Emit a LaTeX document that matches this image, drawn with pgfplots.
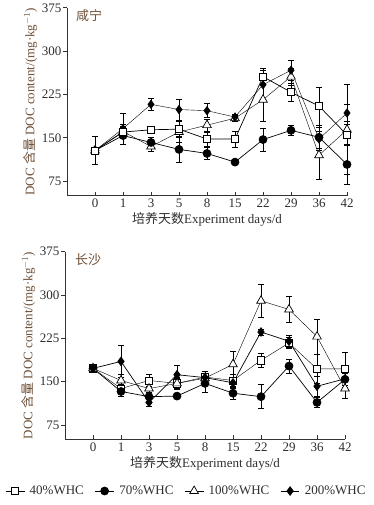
\documentclass[border=0pt]{standalone}
\usepackage{fontspec}
\setmainfont{Liberation Serif}
\newfontfamily\cjk{Noto Sans CJK SC}
\usepackage{pgfplots}
\usepackage{pgfplotstable}
\pgfplotsset{compat=1.18}
\definecolor{lab}{HTML}{6E5038}
\definecolor{txt}{HTML}{2E2E2E}

% x: category index (0..9 = days 0,1,3,5,8,15,22,29,36,42)
% a: 40%WHC, b: 70%WHC, c: 100%WHC, d: 200%WHC ; *e: error
\pgfplotstableread{
x a ae b be c ce d de
0 128 6 128 24 128 6 128 6
1 160 10 154 15 161 12 166 27
2 164 5 142 8 135 8 208 10
3 165 14 130 22 160 18 199 18
4 148 12 123 10 172 10 197 12
5 148 14 108 4 184 5 186 5
6 256 15 147 20 216 37 242 25
7 229 15 163 8 256 15 267 17
8 205 33 151 20 120 42 148 20
9 155 18 104 34 164 78 193 15
}\xianning

\pgfplotstableread{
x a ae b be c ce d de
0 173 5 173 5 173 5 173 5
1 138 8 133 8 152 10 185 28
2 152 10 124 8 138 10 114 6
3 147 8 125 4 147 10 162 17
4 158 10 147 15 156 8 157 10
5 152 10 130 10 180 23 148 10
6 187 12 124 21 290 28 236 5
7 217 10 177 12 275 23 220 10
8 172 25 114 8 228 30 142 18
9 172 28 154 10 138 17 155 15
}\changsha

\pgfplotsset{
  docaxis/.style={
    scale only axis, width=280pt, height=187.7pt,
    xmin=-1, xmax=9, ymin=50, ymax=375,
    axis x line*=bottom, axis y line*=left,
    axis line style={line width=0.9pt, color=black!80},
    xtick={0,...,9}, xticklabels={0,1,3,5,8,15,22,29,36,42},
    ytick={75,150,225,300,375},
    tick align=inside, major tick length=4pt,
    every major y tick/.append style={xshift=-4pt},
    tick style={black!80, line width=0.8pt},
    yticklabel style={xshift=-2pt},
    ticklabel style={font=\fontsize{13}{15}\selectfont, text=txt},
    /pgf/number format/assume math mode=true,
    xlabel={{\cjk 培养天数}Experiment days/d},
    ylabel={DOC {\cjk 含量} DOC content/(mg·kg$^{-1}$)},
    label style={font=\fontsize{13}{15}\selectfont},
    xlabel style={text=txt, yshift=2pt},
    ylabel style={text=lab, yshift=-2pt},
    clip=false,
    cycle list={{black, line width=0.7pt}},
    error bars/error bar style={line width=0.7pt, black},
    error bars/error mark options={rotate=90, mark size=3pt, line width=0.7pt, black},
  },
  sq/.style={mark=square*, mark size=3.6pt, mark options={fill=white, draw=black, line width=0.7pt}},
  ci/.style={mark=*, mark size=4pt, mark options={fill=black, draw=black}},
  tr/.style={mark=triangle*, mark size=5pt, mark options={fill=white, draw=black, line width=0.7pt}},
  di/.style={mark=diamond*, mark size=4.3pt, mark options={fill=black, draw=black}},
}

\begin{document}
\begin{tikzpicture}
\path[use as bounding box] (0,0) rectangle (373pt,-505pt);

\begin{axis}[docaxis, at={(67pt,-195.6pt)}, anchor=south west]
\addplot+[tr, error bars/.cd, y dir=both, y explicit] table[x=x, y=c, y error=ce] {\xianning};
\addplot+[ci, error bars/.cd, y dir=both, y explicit] table[x=x, y=b, y error=be] {\xianning};
\addplot+[di, error bars/.cd, y dir=both, y explicit] table[x=x, y=d, y error=de] {\xianning};
\addplot+[sq, error bars/.cd, y dir=both, y explicit] table[x=x, y=a, y error=ae] {\xianning};
\node[anchor=north west, text=lab, font=\cjk\fontsize{13}{15}\selectfont, inner sep=0pt] at (rel axis cs:0.032,0.995) {咸宁};
\end{axis}

\begin{axis}[docaxis, at={(65pt,-439.4pt)}, anchor=south west,
  legend columns=4,
  legend style={at={(rel axis cs:0.434,-0.275)}, anchor=center, draw=none, fill=none,
    font=\fontsize{13}{15}\selectfont, text=txt,
    /tikz/every odd column/.append style={column sep=3pt},
    /tikz/every even column/.append style={column sep=9pt},
    inner sep=0pt},
  legend image code/.code={\draw[mark repeat=2, mark phase=2] plot coordinates {(0cm,0cm) (0.33cm,0cm) (0.66cm,0cm)};},
]
\addplot+[sq, error bars/.cd, y dir=both, y explicit] table[x=x, y=a, y error=ae] {\changsha};
\addlegendentry{40\%WHC}
\addplot+[ci, error bars/.cd, y dir=both, y explicit] table[x=x, y=b, y error=be] {\changsha};
\addlegendentry{70\%WHC}
\addplot+[tr, error bars/.cd, y dir=both, y explicit] table[x=x, y=c, y error=ce] {\changsha};
\addlegendentry{100\%WHC}
\addplot+[di, error bars/.cd, y dir=both, y explicit] table[x=x, y=d, y error=de] {\changsha};
\addlegendentry{200\%WHC}
\node[anchor=north west, text=lab, font=\cjk\fontsize{13}{15}\selectfont, inner sep=0pt] at (rel axis cs:0.035,0.99) {长沙};
\end{axis}
\end{tikzpicture}
\end{document}
